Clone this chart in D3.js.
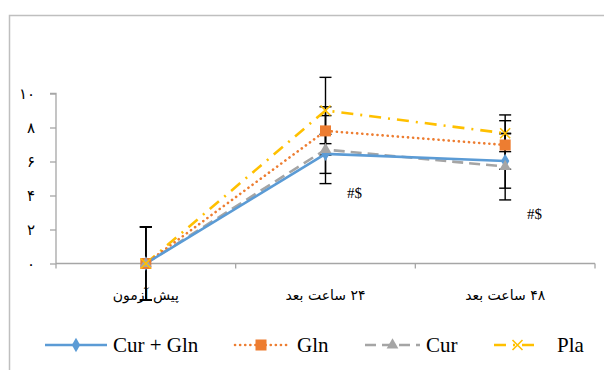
<!DOCTYPE html>
<html><head><meta charset="utf-8">
<script src="https://cdn.jsdelivr.net/npm/d3@7"></script>
<style>body{margin:0;background:#fff}svg{display:block}</style>
</head><body>
<svg id="c" width="604" height="370"></svg>
<script>
const categories = ["پیش آزمون", "۲۴ ساعت بعد", "۴۸ ساعت بعد"];
const seriesNames = ["Cur + Gln", "Gln", "Cur", "Pla"];
const curGln = [0, 6.45, 6.03];
const gln = [0, 7.8, 6.97];
const cur = [0, 6.7, 5.7];
const pla = [0, 9.0, 7.66];
const errCurGln = [2.15, 1.15, 1.6];
const errGln = [2.15, 1.42, 1.43];
const errCur = [2.15, 2.0, 1.96];
const errPla = [2.15, 1.95, 1.08];
const yTicks = [0, 2, 4, 6, 8, 10];
const yTickLabels = ["۰", "۲", "۴", "۶", "۸", "۱۰"];
const annotations = [{cat: 1, text: "#$"}, {cat: 2, text: "#$"}];

const SERIF = "'Liberation Serif', 'Times New Roman', 'DejaVu Serif', serif";

const svg = d3.select("#c");
// outer frame
svg.append("path").attr("d", "M9.5,370 V15.5 H604").attr("fill", "none")
  .attr("stroke", "#bfbfbf").attr("stroke-width", 1.5);

const x = d3.scaleBand().domain(d3.range(categories.length)).range([56, 595]);
const y = d3.scaleLinear().domain([0, 10]).range([263.5, 93.5]);
const cx = i => x(i) + x.bandwidth() / 2;

// y axis
const yAxis = svg.append("g").attr("transform", "translate(56,0)")
  .call(d3.axisLeft(y).tickValues(yTicks).tickSize(6).tickPadding(15)
    .tickFormat((d, i) => yTickLabels[i]));
yAxis.selectAll("path,line").attr("stroke", "#a6a6a6").attr("stroke-width", 1.3);
yAxis.select(".domain").attr("d", `M-6,${y(10)}H0V${y(0)}`);
yAxis.selectAll("text").attr("font-family", "'DejaVu Sans'").attr("font-size", 15)
  .attr("fill", "#000");

// x axis
const xAxisG = svg.append("g").attr("transform", `translate(0,${y(0)})`);
xAxisG.append("line").attr("x1", 56).attr("x2", 595).attr("stroke", "#a6a6a6").attr("stroke-width", 1.3);
xAxisG.selectAll("line.t").data(d3.range(categories.length + 1)).join("line")
  .attr("class", "t")
  .attr("x1", i => i < categories.length ? x(i) : x(i - 1) + x.bandwidth())
  .attr("x2", i => i < categories.length ? x(i) : x(i - 1) + x.bandwidth())
  .attr("y1", 0).attr("y2", 5).attr("stroke", "#a6a6a6").attr("stroke-width", 1.3);
xAxisG.selectAll("text").data(categories).join("text")
  .attr("x", (d, i) => cx(i)).attr("y", 36)
  .attr("text-anchor", "middle").attr("font-family", "'DejaVu Sans'")
  .attr("font-size", 14).attr("direction", "rtl").attr("fill", "#000").text(d => d);

const series = [
  {name: seriesNames[0], vals: curGln, err: errCurGln, color: "#5b9bd5", dash: null, cap: "butt", marker: "diamond"},
  {name: seriesNames[1], vals: gln, err: errGln, color: "#ed7d31", dash: "0.1,5", cap: "round", marker: "square"},
  {name: seriesNames[2], vals: cur, err: errCur, color: "#a5a5a5", dash: "11,6", cap: "butt", marker: "triangle"},
  {name: seriesNames[3], vals: pla, err: errPla, color: "#ffc000", dash: "12,7,2,7", cap: "butt", marker: "x"}
];

// error bars
const eb = svg.append("g");
series.forEach(s => {
  s.vals.forEach((v, i) => {
    const g = eb.append("g").attr("stroke", "#000").attr("stroke-width", 1.4);
    g.append("line").attr("x1", cx(i)).attr("x2", cx(i)).attr("y1", y(v + s.err[i])).attr("y2", y(v - s.err[i]));
    [v + s.err[i], v - s.err[i]].forEach(e => g.append("line")
      .attr("x1", cx(i) - 6).attr("x2", cx(i) + 6).attr("y1", y(e)).attr("y2", y(e)));
  });
});

const line = d3.line().x((d, i) => cx(i)).y(d => y(d));
[...series].reverse().forEach(s => {
  svg.append("path").datum(s.vals).attr("d", line).attr("fill", "none")
    .attr("stroke", s.color).attr("stroke-width", 2.6)
    .attr("stroke-dasharray", s.dash).attr("stroke-linecap", s.cap);
});

function drawMarker(g, type, color, px, py) {
  if (type === "diamond") {
    g.append("path").attr("d", d3.symbol(d3.symbolDiamond, 60)()).attr("transform", `translate(${px},${py})`).attr("fill", color);
  } else if (type === "square") {
    g.append("rect").attr("x", px - 5.5).attr("y", py - 5.5).attr("width", 11).attr("height", 11).attr("fill", color);
  } else if (type === "triangle") {
    g.append("path").attr("d", d3.symbol(d3.symbolTriangle, 60)()).attr("transform", `translate(${px},${py})`).attr("fill", color);
  } else if (type === "x") {
    g.append("path").attr("d", `M${px-5},${py-5}L${px+5},${py+5}M${px-5},${py+5}L${px+5},${py-5}`)
      .attr("stroke", color).attr("stroke-width", 1.6);
  }
}
const mk = svg.append("g");
series.forEach(s => s.vals.forEach((v, i) => drawMarker(mk, s.marker, s.color, cx(i), y(v))));

// annotations
annotations.forEach((a, k) => {
  svg.append("text").attr("x", k === 0 ? 347 : 527).attr("y", k === 0 ? 198 : 219)
    .attr("font-family", SERIF).attr("font-size", 15).attr("fill", "#000").text(a.text);
});

// legend
const legendX = [45, 235, 365, 494];
const legendLineW = [62, 52, 55, 47];
const legendTextX = [113, 297, 426, 557];
const lg = svg.append("g");
series.forEach((s, k) => {
  const x0 = legendX[k], w = legendLineW[k], ly = 345;
  lg.append("line").attr("x1", x0).attr("x2", x0 + w).attr("y1", ly).attr("y2", ly)
    .attr("stroke", s.color).attr("stroke-width", 2.6).attr("stroke-dasharray", s.dash).attr("stroke-linecap", s.cap);
  drawMarker(lg, s.marker, s.color, x0 + w / 2, ly);
  lg.append("text").attr("x", legendTextX[k]).attr("y", ly + 7)
    .attr("font-family", SERIF).attr("font-size", 21).attr("fill", "#000").text(s.name);
});
</script>
</body></html>
